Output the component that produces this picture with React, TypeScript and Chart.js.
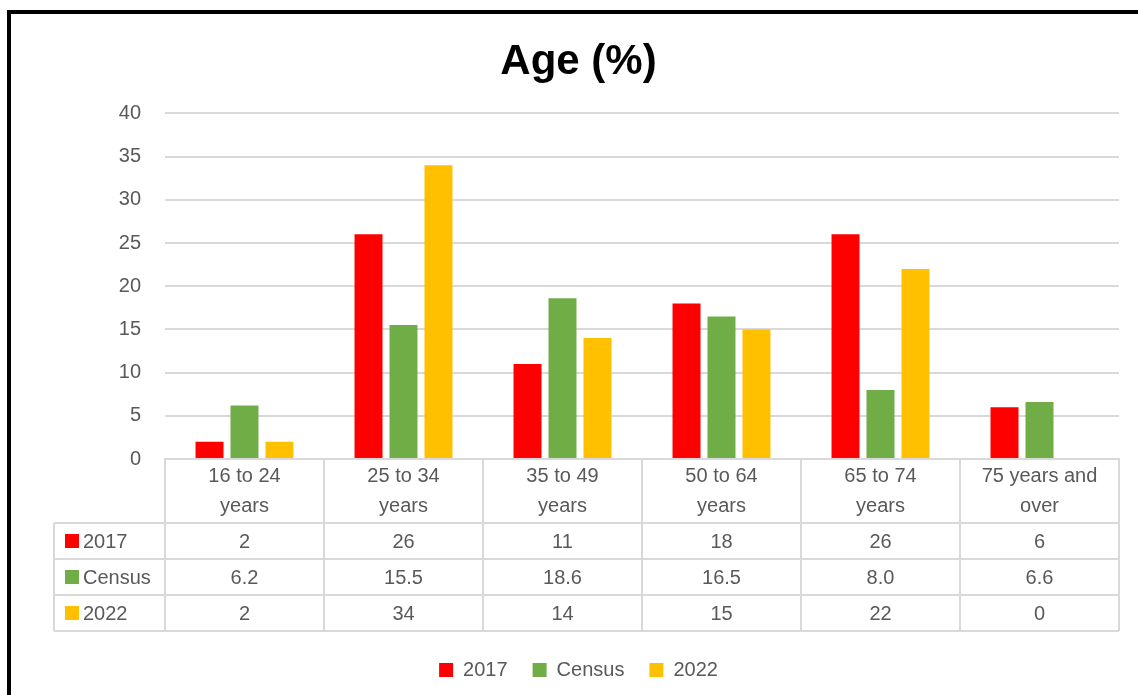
import React, { useEffect, useRef } from "react";
import { Chart, registerables } from "chart.js";

Chart.register(...registerables);

const categories: string[][] = [
  ["16 to 24", "years"],
  ["25 to 34", "years"],
  ["35 to 49", "years"],
  ["50 to 64", "years"],
  ["65 to 74", "years"],
  ["75 years and", "over"],
];
const seriesNames = ["2017", "Census", "2022"];
const values2017 = [2, 26, 11, 18, 26, 6];
const valuesCensus = [6.2, 15.5, 18.6, 16.5, 8.0, 6.6];
const values2022 = [2, 34, 14, 15, 22, 0];
const seriesDecimals = [0, 1, 0];
const seriesColors = ["#FF0000", "#70AD47", "#FFC000"];
const yTicks = { min: 0, max: 40, step: 5 };

const FONT = '"Liberation Sans", Arial, sans-serif';
const TEXT = "#595959";
const GRID = "#D9D9D9";

const tablePlugin = {
  id: "dataTable",
  afterDraw(chart: any) {
    const ctx = chart.ctx as CanvasRenderingContext2D;
    const x = chart.scales.x;
    const area = chart.chartArea;
    const top = x.top;
    const headerH = 64;
    const rowH = 36;
    const tableLeft = 54;
    const n = categories.length;
    const catW = (area.right - area.left) / n;
    const rowsTop = top + headerH;
    const bottom = rowsTop + rowH * 3;
    ctx.save();
    ctx.strokeStyle = GRID;
    ctx.lineWidth = 2;
    ctx.beginPath();
    for (let i = 0; i <= n; i++) {
      const px = Math.round(area.left + catW * i);
      ctx.moveTo(px, top);
      ctx.lineTo(px, bottom);
    }
    ctx.moveTo(tableLeft, rowsTop);
    ctx.lineTo(tableLeft, bottom);
    ctx.moveTo(area.left, top);
    ctx.lineTo(area.right, top);
    for (let r = 0; r <= 3; r++) {
      const py = Math.round(rowsTop + rowH * r);
      ctx.moveTo(tableLeft, py);
      ctx.lineTo(area.right, py);
    }
    ctx.stroke();

    ctx.font = `20px ${FONT}`;
    ctx.fillStyle = TEXT;
    ctx.textBaseline = "middle";
    const datasets = chart.data.datasets;
    for (let r = 0; r < datasets.length; r++) {
      const cy = rowsTop + rowH * r + rowH / 2;
      ctx.fillStyle = datasets[r].backgroundColor;
      ctx.fillRect(tableLeft + 11, cy - 7, 14, 14);
      ctx.fillStyle = TEXT;
      ctx.textAlign = "left";
      ctx.fillText(datasets[r].label, tableLeft + 29, cy + 1);
      ctx.textAlign = "center";
      const data = datasets[r].data as number[];
      for (let i = 0; i < n; i++) {
        const cx = area.left + catW * (i + 0.5);
        ctx.fillText(data[i].toFixed(seriesDecimals[r]), cx, cy + 1);
      }
    }
    ctx.restore();
  },
};

export default function App() {
  const ref = useRef<HTMLCanvasElement>(null);
  useEffect(() => {
    if (!ref.current) return;
    const allSeries = [values2017, valuesCensus, values2022];
    const chart = new Chart(ref.current, {
      type: "bar",
      data: {
        labels: categories,
        datasets: allSeries.map((d, i) => ({
          label: seriesNames[i],
          data: d,
          backgroundColor: seriesColors[i],
          borderWidth: 0,
          categoryPercentage: 0.66,
          barPercentage: 0.8,
        })),
      },
      options: {
        animation: false,
        responsive: true,
        maintainAspectRatio: false,
        layout: { padding: { top: 14, right: 19, left: 38, bottom: 5 } },
        plugins: {
          title: {
            display: true,
            text: "Age (%)",
            color: "#000000",
            font: { family: FONT, size: 42, weight: "bold", lineHeight: 1.2 },
            padding: { top: 23, bottom: 26 },
          },
          legend: {
            display: true,
            position: "bottom",
            labels: {
              color: TEXT,
              font: { family: FONT, size: 20 },
              boxWidth: 14,
              boxHeight: 14,
              padding: 25,
            },
          },
          tooltip: { enabled: false },
        },
        scales: {
          x: {
            grid: { display: false, drawTicks: false },
            border: { display: true, color: GRID, width: 2 },
            ticks: {
              color: TEXT,
              font: { family: FONT, size: 20, lineHeight: 1.5 },
              padding: 2,
              maxRotation: 0,
              autoSkip: false,
            },
            afterFit: (scale: any) => {
              scale.height = 176;
            },
          },
          y: {
            min: yTicks.min,
            max: yTicks.max,
            grid: { color: GRID, lineWidth: 2, drawTicks: false },
            border: { display: false },
            ticks: {
              stepSize: yTicks.step,
              color: TEXT,
              font: { family: FONT, size: 20, lineHeight: 1.2 },
              padding: 24,
            },
            afterFit: (scale: any) => {
              scale.width = 127;
            },
          },
        },
      },
      plugins: [tablePlugin],
    });
    return () => chart.destroy();
  }, []);

  return (
    <div style={{ position: "fixed", left: 0, top: 0, width: 1138, height: 695, overflow: "hidden", background: "#fff" }}>
      <canvas ref={ref} style={{ position: "absolute", left: 0, top: 0 }} />
      <div
        style={{
          position: "absolute",
          left: 7,
          top: 10,
          width: 1200,
          height: 800,
          borderLeft: "4px solid #000",
          borderTop: "4px solid #000",
          pointerEvents: "none",
        }}
      />
    </div>
  );
}
